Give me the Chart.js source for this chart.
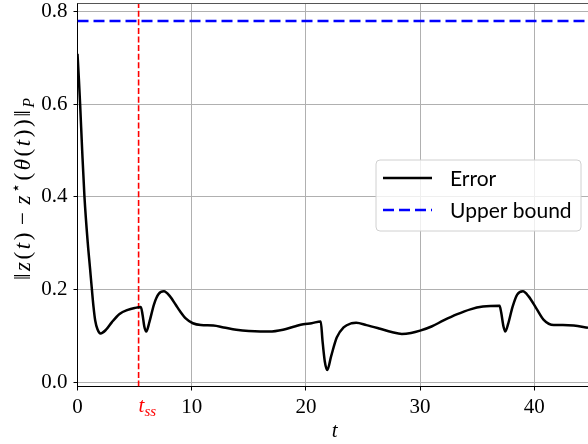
<!DOCTYPE html>
<html><head><meta charset="utf-8">
<script src="https://cdn.jsdelivr.net/npm/chart.js@4.4.1/dist/chart.umd.min.js"></script>
<style>html,body{margin:0;padding:0;background:#fff;overflow:hidden}canvas{display:block}</style>
</head><body>
<canvas id="c" width="588" height="444"></canvas>
<script>
const tValues = [0,0.12,0.23,0.41,0.61,0.9,1.1,1.26,1.4,1.55,1.75,2.02,2.5,3.0,3.68,4.4,5.0,5.55,5.7,5.85,6.02,6.3,6.7,7.1,7.57,8.1,8.6,8.95,9.5,10.1,10.8,11.9,12.8,13.9,15.0,16.0,16.8,18.0,19.0,19.77,20.5,21.3,21.45,21.65,21.87,22.2,22.7,23.3,24.0,24.4,25.3,26.5,27.5,28.4,29.2,30.0,31.0,32.05,33.2,34.4,35.5,36.96,37.1,37.3,37.46,37.7,38.1,38.5,39.0,39.5,40.2,40.8,41.7,42.5,43.45,44.7];
const errorValues = [0.709,0.655,0.6,0.5,0.4,0.3,0.245,0.2,0.163,0.133,0.114,0.105,0.113,0.129,0.147,0.156,0.16,0.162,0.145,0.12,0.109,0.13,0.168,0.19,0.196,0.185,0.167,0.154,0.137,0.127,0.123,0.122,0.118,0.113,0.11,0.109,0.109,0.113,0.12,0.125,0.127,0.131,0.09,0.045,0.026,0.055,0.096,0.118,0.127,0.128,0.123,0.115,0.108,0.104,0.106,0.111,0.12,0.133,0.146,0.157,0.163,0.165,0.15,0.12,0.109,0.125,0.163,0.189,0.196,0.185,0.158,0.135,0.123,0.123,0.122,0.117];
const boundT = [0, 44.7];
const boundValues = [0.78, 0.78];
const tSteadyState = 5.35;
const xTicks = [0, 10, 20, 30, 40];
const yTicks = [0, 0.2, 0.4, 0.6, 0.8];
const xRange = [0, 44.7];
const yRange = [-0.0097, 0.818];
const legendLabels = ['Error', 'Upper bound'];

const SERIF = '"Liberation Serif", "DejaVu Serif", serif';

const annot = {
  id: 'annot',
  afterDraw(chart) {
    const ctx = chart.ctx, a = chart.chartArea, xs = chart.scales.x;
    ctx.save();
    // top spine
    ctx.strokeStyle = '#555';
    ctx.lineWidth = 1;
    ctx.beginPath(); ctx.moveTo(a.left, a.top); ctx.lineTo(a.right, a.top); ctx.stroke();

    // legend
    const ds = chart.data.datasets;
    const bx = a.right - 212, by = a.top + 156.5, bw = 205, bh = 71;
    ctx.fillStyle = 'rgba(255,255,255,0.8)';
    ctx.strokeStyle = '#d0d0d0';
    ctx.lineWidth = 1;
    ctx.beginPath();
    ctx.roundRect(bx, by, bw, bh, 4);
    ctx.fill(); ctx.stroke();
    ctx.font = '21px Lato';
    ctx.textBaseline = 'middle';
    ctx.textAlign = 'left';
    for (let i = 0; i < 2; i++) {
      const y = by + 18 + i * 32;
      ctx.strokeStyle = ds[i].borderColor;
      ctx.lineWidth = ds[i].borderWidth;
      ctx.setLineDash(ds[i].borderDash || []);
      ctx.beginPath(); ctx.moveTo(bx + 7, y); ctx.lineTo(bx + 56, y); ctx.stroke();
      ctx.setLineDash([]);
      ctx.fillStyle = '#000';
      ctx.fillText(legendLabels[i], bx + 74, y + 1);
    }

    // t_ss label
    ctx.textBaseline = 'alphabetic';
    ctx.fillStyle = '#ff0000';
    const tx = xs.getPixelForValue(tSteadyState);
    ctx.font = 'italic 21px ' + SERIF;
    ctx.fillText('t', tx, 412);
    const tw = ctx.measureText('t').width;
    ctx.font = 'italic 15px ' + SERIF;
    ctx.fillText('ss', tx + tw, 416);

    // x title
    ctx.fillStyle = '#000';
    ctx.font = 'italic 21px ' + SERIF;
    ctx.textAlign = 'center';
    ctx.fillText('t', (a.left + a.right) / 2 + 2, 437);

    // y title (rich text)
    ctx.textAlign = 'left';
    const segs = [['‖','n'],['z','i'],['(','n'],['t','i'],[')','n'],['−','m'],['z','i'],['⋆','sup'],['(','n'],['θ','i'],['(','n'],['t','i'],[')','n'],[')','n'],['‖','n'],['P','sub']];
    const fontFor = k => (k === 'n' || k === 'm') ? '23px ' + SERIF : k === 'i' ? 'italic 23px ' + SERIF : k === 'sup' ? '16px ' + SERIF : 'italic 16px ' + SERIF;
    const targetLen = 182;
    let total = 0;
    const widths = segs.map(([s, k]) => { ctx.font = fontFor(k); const w = ctx.measureText(s).width; total += w; return w; });
    const extraMinus = 5;
    total += 2 * extraMinus;
    const gap = Math.max(0, (targetLen - total) / (segs.length - 1));
    ctx.translate(29.5, 189);
    ctx.rotate(-Math.PI / 2);
    let x = -targetLen / 2;
    segs.forEach(([s, k], i) => {
      ctx.font = fontFor(k);
      if (k === 'm') x += extraMinus;
      const dy = k === 'sup' ? -9 : k === 'sub' ? 4 : 0;
      ctx.fillText(s, x, dy);
      x += widths[i] + gap;
      if (k === 'm') x += extraMinus;
    });
    ctx.restore();
  }
};

new Chart(document.getElementById('c'), {
  type: 'scatter',
  data: {
    datasets: [
      { label: legendLabels[0], data: tValues.map((t, i) => ({ x: t, y: errorValues[i] })), showLine: true,
        borderColor: '#000000', borderWidth: 2.5, pointRadius: 0, cubicInterpolationMode: 'monotone' },
      { label: legendLabels[1], data: boundT.map((t, i) => ({ x: t, y: boundValues[i] })), showLine: true,
        borderColor: '#0000ff', borderWidth: 2.5, borderDash: [11, 5], pointRadius: 0 },
      { label: 'tss', data: [{ x: tSteadyState, y: yRange[0] }, { x: tSteadyState, y: yRange[1] }], showLine: true,
        borderColor: '#ff0000', borderWidth: 1.6, borderDash: [6, 2.6], pointRadius: 0 }
    ]
  },
  options: {
    responsive: false,
    animation: false,
    layout: { padding: { top: 3.5, right: 0, left: 0, bottom: 0 } },
    plugins: { legend: { display: false }, tooltip: { enabled: false } },
    scales: {
      x: {
        type: 'linear', min: xRange[0], max: xRange[1],
        afterBuildTicks: s => { s.ticks = xTicks.map(v => ({ value: v })); },
        afterFit: s => { s.height = 57.5; s.paddingLeft = 0; s.paddingRight = 0; s.paddingTop = 0; s.paddingBottom = 0; },
        grid: { color: '#b0b0b0', lineWidth: 1, tickColor: '#000', tickLength: 4 },
        border: { color: '#000', width: 1 },
        ticks: { font: { family: SERIF, size: 21 }, color: '#000', padding: 4, maxRotation: 0, autoSkip: false,
                 callback: v => String(v) }
      },
      y: {
        type: 'linear', min: yRange[0], max: yRange[1],
        afterBuildTicks: s => { s.ticks = yTicks.map(v => ({ value: v })); },
        afterFit: s => { s.width = 77.5; s.paddingTop = 0; s.paddingBottom = 0; s.paddingLeft = 0; s.paddingRight = 0; },
        grid: { color: '#b0b0b0', lineWidth: 1, tickColor: '#000', tickLength: 4 },
        border: { color: '#000', width: 1 },
        ticks: { font: { family: SERIF, size: 21 }, color: '#000', padding: 6, autoSkip: false,
                 callback: v => v.toFixed(1) }
      }
    }
  },
  plugins: [annot]
});
</script>
</body></html>
